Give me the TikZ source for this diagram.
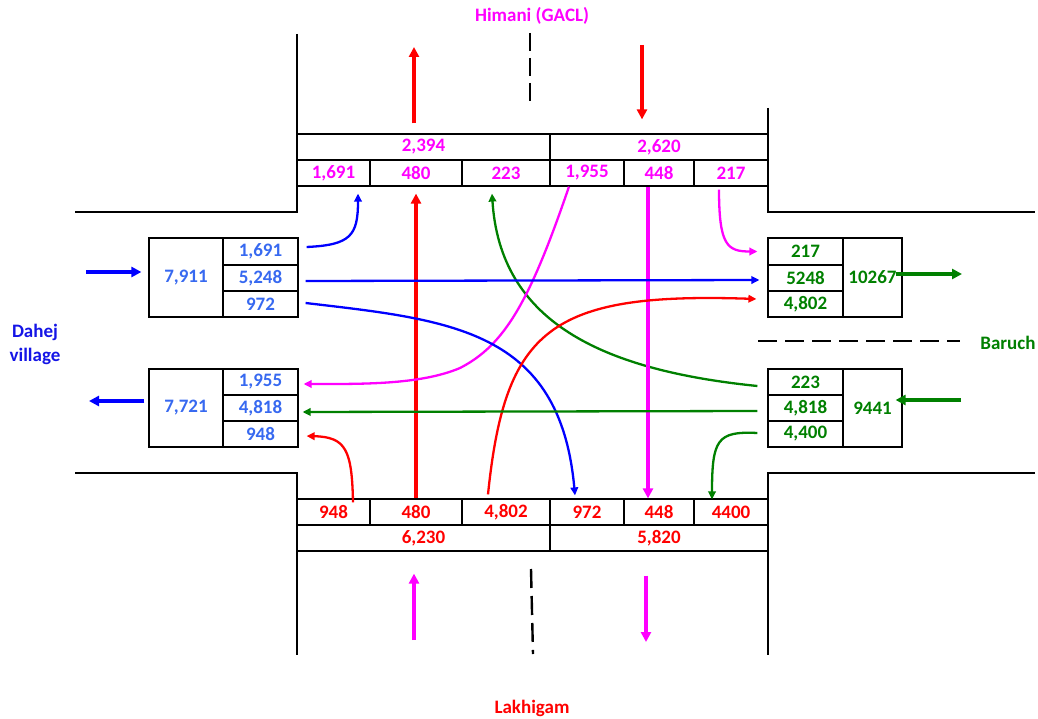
\documentclass[tikz,border=0pt]{standalone}
\usepackage{fontspec}
\setmainfont{Carlito}
\usetikzlibrary{arrows.meta}
\definecolor{cmag}{RGB}{255,0,255}
\definecolor{cred}{RGB}{255,0,0}
\definecolor{cblue}{RGB}{0,0,255}
\definecolor{ctblue}{RGB}{55,105,240}
\definecolor{cgreen}{RGB}{0,128,0}
\definecolor{cdblue}{RGB}{20,20,230}
\begin{document}
\begin{tikzpicture}[x=1pt,y=-1pt,
  cell/.style={draw=black, line width=1.2pt, inner sep=0pt, font=\fontsize{19}{22}\selectfont\bfseries},
  mcell/.style={cell, text=cmag},
  rcell/.style={cell, text=cred},
  bcell/.style={cell, text=ctblue},
  gcell/.style={cell, text=cgreen},
  road/.style={line width=2.2pt, black},
  lane/.style={line width=2.4pt, black},
  big/.style={line width=3.1pt, -{Triangle[length=10pt,width=10pt]}},
  thin/.style={line width=2.3pt, -{Triangle[length=8pt,width=7.5pt]}},
  lbl/.style={font=\fontsize{19}{24}\selectfont\bfseries, inner sep=0pt}
]
\useasboundingbox (0,0) rectangle (1038,719);

% roads
\draw[road] (297,34) -- (297,212) -- (75,212);
\draw[road] (768,108) -- (768,212) -- (1035,212);
\draw[road] (75,473) -- (297,473) -- (297,655);
\draw[road] (1035,473) -- (768,473) -- (768,655);
\draw[lane, dash pattern=on 18pt off 7pt] (530,33) -- (530,101);
\draw[lane, dash pattern=on 19pt off 8pt] (531,569) -- (533,654);
\draw[lane, dash pattern=on 19pt off 8pt] (758,341) -- (960,341);

% top table
\node[mcell, minimum width=253pt, minimum height=26pt] (tA) at (423.5,147) {2,394};
\node[mcell, minimum width=218pt, minimum height=26pt] (tB) at (659,147) {2,620};
\node[mcell, minimum width=73pt, minimum height=26pt] (t1) at (333.5,173) {1,691};
\node[mcell, minimum width=92pt, minimum height=26pt] (t2) at (416,173) {480};
\node[mcell, minimum width=88pt, minimum height=26pt] (t3) at (506,173) {223};
\node[mcell, minimum width=74pt, minimum height=26pt] (t4) at (587,173) {1,955};
\node[mcell, minimum width=70pt, minimum height=26pt] (t5) at (659,173) {448};
\node[mcell, minimum width=74pt, minimum height=26pt] (t6) at (731,173) {217};

% bottom table
\node[rcell, minimum width=73pt, minimum height=26pt] (b1) at (333.5,512) {948};
\node[rcell, minimum width=92pt, minimum height=26pt] (b2) at (416,512) {480};
\node[rcell, minimum width=88pt, minimum height=26pt] (b3) at (506,512) {4,802};
\node[rcell, minimum width=74pt, minimum height=26pt] (b4) at (587,512) {972};
\node[rcell, minimum width=70pt, minimum height=26pt] (b5) at (659,512) {448};
\node[rcell, minimum width=74pt, minimum height=26pt] (b6) at (731,512) {4400};
\node[rcell, minimum width=253pt, minimum height=26pt] (bA) at (423.5,538) {6,230};
\node[rcell, minimum width=218pt, minimum height=26pt] (bB) at (659,538) {5,820};

% left tables
\node[bcell, minimum width=74pt, minimum height=79pt] (lU) at (186,277.5) {7,911};
\node[bcell, minimum width=75pt, minimum height=27pt] (lU1) at (260.5,251.5) {1,691};
\node[bcell, minimum width=75pt, minimum height=26pt] (lU2) at (260.5,278) {5,248};
\node[bcell, minimum width=75pt, minimum height=26pt] (lU3) at (260.5,304) {972};
\node[bcell, minimum width=74pt, minimum height=78pt] (lL) at (186,408) {7,721};
\node[bcell, minimum width=75pt, minimum height=26pt] (lL1) at (260.5,382) {1,955};
\node[bcell, minimum width=75pt, minimum height=26pt] (lL2) at (260.5,408) {4,818};
\node[bcell, minimum width=75pt, minimum height=26pt] (lL3) at (260.5,434) {948};

% right tables
\node[gcell, minimum width=75pt, minimum height=27pt] (rU1) at (805.5,251.5) {217};
\node[gcell, minimum width=75pt, minimum height=26pt] (rU2) at (805.5,278) {5248};
\node[gcell, minimum width=75pt, minimum height=26pt] (rU3) at (805.5,304) {4,802};
\node[gcell, minimum width=59pt, minimum height=79pt] (rU) at (872.5,277.5) {10267};
\node[gcell, minimum width=75pt, minimum height=26pt] (rL1) at (805.5,382) {223};
\node[gcell, minimum width=75pt, minimum height=26pt] (rL2) at (805.5,408) {4,818};
\node[gcell, minimum width=75pt, minimum height=26pt] (rL3) at (805.5,434) {4,400};
\node[gcell, minimum width=59pt, minimum height=78pt] (rL) at (872.5,408) {9441};

% labels
\node[lbl, text=cmag] (north) at (532,16) {Himani (GACL)};
\node[lbl, text=cred] (south) at (532,708) {Lakhigam};
\node[lbl, text=cdblue, align=center] (west) at (35,344) {Dahej\\village};
\node[lbl, text=cgreen] (east) at (1008,343) {Baruch};

% free ends of approach arrows
\coordinate (inW) at (86,272);
\coordinate (outW) at (89,401);
\coordinate (outE) at (962,274);
\coordinate (inE) at (961,400);
\coordinate (outN) at (414,47);
\coordinate (inN) at (642,45);
\coordinate (inS) at (414,640);
\coordinate (outS) at (646,642);

\draw[big, cblue] (inW) -- ([xshift=-7pt,yshift=5.5pt]lU.west);
\draw[big, cblue] ([xshift=-4pt,yshift=7pt]lL.west) -- (outW);
\draw[big, cgreen] ([xshift=-7pt,yshift=3.5pt]rU.east) -- (outE);
\draw[big, cgreen] (inE) -- ([xshift=-7pt,yshift=8pt]rL.east);
\draw[big, cred] ([xshift=-9.5pt,yshift=10pt]tA.north) -- (outN);
\draw[big, cred] (inN) -- ([xshift=-17pt,yshift=14pt]tB.north);
\draw[big, cmag] (inS) -- ([xshift=-9.5pt,yshift=-22pt]bA.south);
\draw[big, cmag] ([xshift=-13pt,yshift=-24pt]bB.south) -- (outS);

% turning movements
\draw[thin, cblue] ([xshift=8pt,yshift=4.5pt]lU1.east) .. controls +(44,-2) and +(0,42) .. ([xshift=24.5pt,yshift=-7pt]t1.south);
\draw[big, cred] (b2.north) -- ([yshift=-7pt]t2.south);
\draw[thin, cgreen] ([xshift=-10pt,yshift=-4pt]rL1.west) .. controls +(-158,-16) and +(8,127) .. ([xshift=-14pt,yshift=-7pt]t3.south);
\draw[thin, cmag] ([xshift=-18pt]t4.south) .. controls +(-39,114) and +(45,-23) .. (460,368) .. controls +(-40,17) and +(57,0) .. ([xshift=5pt,yshift=-2pt]lL1.east);
\draw[big, cmag] ([xshift=-11pt]t5.south) -- ([xshift=-11pt]b5.north);
\draw[thin, cmag] ([xshift=-12pt,yshift=-3pt]t6.south) .. controls +(0,56) and +(-30,0) .. ([xshift=-10pt]rU1.west);
\draw[thin, cblue] ([xshift=7pt,yshift=-3pt]lU2.east) -- ([xshift=-8pt,yshift=-2pt]rU2.west);
\draw[thin, cblue] ([xshift=7pt,yshift=1pt]lU3.east) .. controls +(145,17) and +(-15,-166) .. ([xshift=-12pt,yshift=3pt]b4.north);
\draw[thin, cred] ([xshift=-18pt,yshift=4pt]b3.north) .. controls +(17,-165) and +(-207,-7) .. ([xshift=-11pt,yshift=5pt]rU3.west);
\draw[thin, cgreen] ([xshift=-10pt,yshift=-3pt]rL2.west) -- ([xshift=4pt,yshift=-4pt]lL2.east);
\draw[thin, cgreen] ([xshift=-10pt,yshift=1pt]rL3.west) .. controls +(-40,-2) and +(0,-60) .. ([xshift=-19pt,yshift=-1pt]b6.north);
\draw[thin, cred] ([xshift=19.5pt,yshift=-4pt]b1.north) .. controls +(-1,-53) and +(39,1) .. ([xshift=8pt,yshift=-2pt]lL3.east);
\end{tikzpicture}
\end{document}
